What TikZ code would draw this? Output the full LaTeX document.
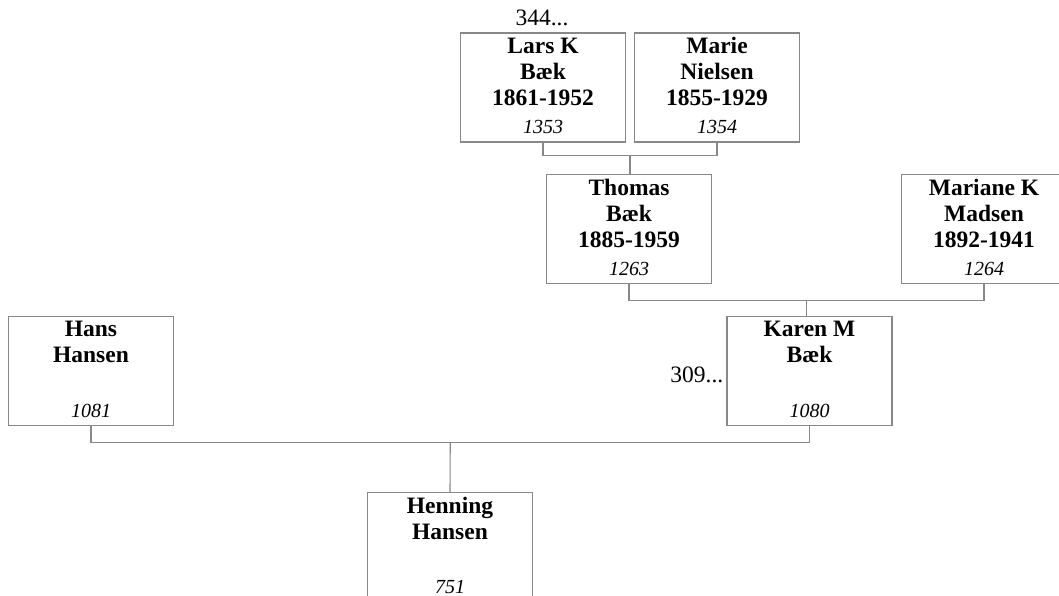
\documentclass[tikz,border=0pt]{standalone}
\usepackage{fontspec}
\setmainfont{Liberation Serif}
\usetikzlibrary{calc}
\definecolor{lineGray}{RGB}{136,136,136}
\begin{document}
\begin{tikzpicture}[x=1pt,y=-1pt,
  person/.style={draw=lineGray,line width=1.1pt,fill=white,rectangle,
    minimum width=165pt,minimum height=109pt,inner sep=0pt},
  names/.style={anchor=north,align=center,inner sep=0pt,
    font=\fontsize{23.5}{26}\selectfont\bfseries},
  pid/.style={anchor=base,inner sep=0pt,font=\fontsize{20}{22}\selectfont\itshape},
  more/.style={inner sep=0pt,font=\fontsize{23.5}{26}\selectfont},
  link/.style={draw=lineGray,line width=1.1pt}]
\clip (0,0) rectangle (1059,596);
\fill[white] (0,0) rectangle (1059,596);

% boxes
\node[person] (lars)    at (543,87.5) {};
\node[person] (marie)   at (717,87.5) {};
\node[person] (thomas)  at (629,229) {};
\node[person] (mariane) at (984,229) {};
\node[person] (hans)    at (91,371) {};
\node[person] (karen)   at (809.5,371) {};
\node[person] (henning) at (450,547) {};

% names
\node[names] (larsN)    at ($(lars.north)+(0,5)$)    {Lars K\\Bæk\\1861-1952};
\node[names] (marieN)   at ($(marie.north)+(0,5)$)   {Marie\\Nielsen\\1855-1929};
\node[names] (thomasN)  at ($(thomas.north)+(0,5)$)  {Thomas\\Bæk\\1885-1959};
\node[names] (marianeN) at ($(mariane.north)+(0,5)$) {Mariane K\\Madsen\\1892-1941};
\node[names] (hansN)    at ($(hans.north)+(0,5)$)    {Hans\\Hansen};
\node[names] (karenN)   at ($(karen.north)+(0,5)$)   {Karen M\\Bæk};
\node[names] (henningN) at ($(henning.north)+(0,5)$) {Henning\\Hansen};

% ids
\node[pid] (larsI)    at ($(lars.south)+(0,-9)$)    {1353};
\node[pid] (marieI)   at ($(marie.south)+(0,-9)$)   {1354};
\node[pid] (thomasI)  at ($(thomas.south)+(0,-9)$)  {1263};
\node[pid] (marianeI) at ($(mariane.south)+(0,-9)$) {1264};
\node[pid] (hansI)    at ($(hans.south)+(0,-9)$)    {1081};
\node[pid] (karenI)   at ($(karen.south)+(0,-9)$)   {1080};
\node[pid] (henningI) at ($(henning.south)+(0,-9)$) {751};

% continuation labels
\node[more,anchor=base] (larsM) at ($(lars.north)+(-1,-7)$) {344...};
\node[more,anchor=base east] (karenM) at ($(karen.west)+(-3,11)$) {309...};

% connectors
\coordinate (j1) at ($(lars.south)!0.5!(marie.south)+(0,13)$);
\draw[link] (lars.south) -- ++(0,13) -| (marie.south);
\draw[link] (j1) -- (j1 |- thomas.north);
\coordinate (j2) at ($(thomas.south)!0.5!(mariane.south)+(0,16)$);
\draw[link] (thomas.south) -- ++(0,16) -| (mariane.south);
\draw[link] (j2) -- (j2 |- karen.north);
\coordinate (j3) at ($(hans.south)!0.5!(karen.south)+(0,16)$);
\draw[link] (hans.south) -- ++(0,16) -| (karen.south);
\draw[link] (j3) -- (henning.north);
\end{tikzpicture}
\end{document}
